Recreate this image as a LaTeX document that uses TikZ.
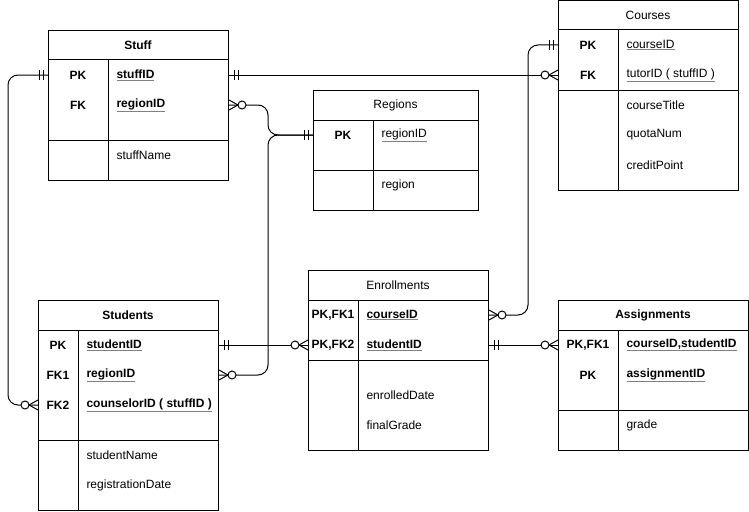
\documentclass[tikz,border=0pt]{standalone}
\usepackage{fontspec}
\usepackage{xcolor}
\setmainfont{Liberation Sans}
\newcommand\ulg[1]{{\color{gray}\underline{\color{black}#1}}}
\begin{document}
\begin{tikzpicture}[x=1pt,y=-1pt,line width=1pt,
  font=\fontsize{12}{14}\selectfont,
  tbl/.style={draw, line width=1pt, inner sep=0pt, anchor=north west},
  ttlb/.style={font=\fontsize{12}{14}\selectfont\bfseries},
  ttlr/.style={font=\fontsize{12}{14}\selectfont},
  keylbl/.style={font=\fontsize{12}{14}\selectfont\bfseries, anchor=center, inner sep=0pt},
  fldb/.style={font=\fontsize{12}{14}\selectfont\bfseries, anchor=west, inner sep=0pt},
  fldr/.style={font=\fontsize{12}{14}\selectfont, anchor=west, inner sep=0pt},
  conn/.style={line width=1pt, rounded corners=10pt}]
\newcommand\mone[2]{\begin{scope}[shift={(#1)},xscale=#2]\draw (5,-5)--(5,5) (9,-5)--(9,5);\end{scope}}
\newcommand\zmany[2]{\begin{scope}[shift={(#1)},xscale=#2]\draw (0,-5)--(9,0)--(0,5); \draw[fill=white] (13,0) circle[radius=4];\end{scope}}
\useasboundingbox (0,0) rectangle (749,511);
\fill[white] (0,0) rectangle (749,511);

% ---------- Stuff ----------
\node[tbl, minimum width=180pt, minimum height=150pt] (stuff) at (48,30) {};
\draw (48,60) -- (228,60) (48,140) -- (228,140) (108,60) -- (108,180);
\node[ttlb] (stuffT) at (138,45) {Stuff};
\node[keylbl] (stuffK1) at (78,75) {PK};
\node[keylbl] (stuffK2) at (78,105) {FK};
\node[fldb] (stuffF1) at (116,75) {\ulg{stuffID}};
\node[fldb] (stuffF2) at (116,105) {\ulg{regionID}};
\node[fldr] (stuffF3) at (116,155) {stuffName};

% ---------- Regions ----------
\node[tbl, minimum width=165pt, minimum height=120pt] (regions) at (313,90) {};
\draw (313,120) -- (478,120) (313,170) -- (478,170) (373,120) -- (373,210);
\node[ttlr] (regT) at (395.5,105) {Regions};
\node[keylbl] (regK1) at (343,135) {PK};
\node[fldr] (regF1) at (381,135) {\ulg{regionID}};
\node[fldr] (regF2) at (381,185) {region};

% ---------- Courses ----------
\node[tbl, minimum width=180pt, minimum height=189.5pt] (courses) at (558,0.5) {};
\draw (558,30) -- (738,30) (558,90) -- (738,90) (618,30) -- (618,190);
\node[ttlr] (crsT) at (648,15) {Courses};
\node[keylbl] (crsK1) at (588,45) {PK};
\node[keylbl] (crsK2) at (588,75) {FK};
\node[fldr] (crsF1) at (626,45) {\ulg{courseID}};
\node[fldr] (crsF2) at (626,75) {\ulg{tutorID ( stuffID )}};
\node[fldr] (crsF3) at (626,105) {courseTitle};
\node[fldr] (crsF4) at (626,135) {quotaNum};
\node[fldr] (crsF5) at (626,165) {creditPoint};

% ---------- Students ----------
\node[tbl, minimum width=180pt, minimum height=210pt] (students) at (38,300) {};
\draw (38,330) -- (218,330) (38,440) -- (218,440) (78,330) -- (78,510);
\node[ttlb] (stuT) at (128,315) {Students};
\node[keylbl] (stuK1) at (58,345) {PK};
\node[keylbl] (stuK2) at (58,375) {FK1};
\node[keylbl] (stuK3) at (58,405) {FK2};
\node[fldb] (stuF1) at (86,345) {\ulg{studentID}};
\node[fldb] (stuF2) at (86,375) {\ulg{regionID}};
\node[fldb] (stuF3) at (86,405) {\ulg{counselorID ( stuffID )}};
\node[fldr] (stuF4) at (86,455) {studentName};
\node[fldr] (stuF5) at (86,485) {registrationDate};

% ---------- Enrollments ----------
\node[tbl, minimum width=180pt, minimum height=180pt] (enroll) at (308,270) {};
\draw (308,300) -- (488,300) (308,360) -- (488,360) (358,300) -- (358,450);
\node[ttlr] (enrT) at (398,285) {Enrollments};
\node[keylbl] (enrK1) at (333,315) {PK,FK1};
\node[keylbl] (enrK2) at (333,345) {PK,FK2};
\node[fldb] (enrF1) at (366,315) {\ulg{courseID}};
\node[fldb] (enrF2) at (366,345) {\ulg{studentID}};
\node[fldr] (enrF3) at (366,395) {enrolledDate};
\node[fldr] (enrF4) at (366,425) {finalGrade};

% ---------- Assignments ----------
\node[tbl, minimum width=190pt, minimum height=150pt] (assign) at (558,300) {};
\draw (558,330) -- (748,330) (558,410) -- (748,410) (618,330) -- (618,450);
\node[ttlb] (asgT) at (653,315) {Assignments};
\node[keylbl] (asgK1) at (588,345) {PK,FK1};
\node[keylbl] (asgK2) at (588,375) {PK};
\node[fldb] (asgF1) at (626,345) {\ulg{courseID,studentID}};
\node[fldb] (asgF2) at (626,375) {\ulg{assignmentID}};
\node[fldr] (asgF3) at (626,425) {grade};

% ---------- end points ----------
\coordinate (pStuffPKw) at (stuff.west |- stuffK1);
\coordinate (pStuffPKe) at (stuff.east |- stuffK1);
\coordinate (pStuffFKe) at (stuff.east |- stuffK2);
\coordinate (pRegPKw) at (regions.west |- regK1);
\coordinate (pCrsPKw) at (courses.west |- crsK1);
\coordinate (pCrsFKw) at (courses.west |- crsK2);
\coordinate (pStuPKe) at (students.east |- stuK1);
\coordinate (pStuFK1e) at (students.east |- stuK2);
\coordinate (pStuFK2w) at (students.west |- stuK3);
\coordinate (pEnrK1e) at (enroll.east |- enrK1);
\coordinate (pEnrK2w) at (enroll.west |- enrK2);
\coordinate (pEnrK2e) at (enroll.east |- enrK2);
\coordinate (pAsgK1w) at (assign.west |- asgK1);

% ---------- connectors ----------
\draw[conn] (pStuffPKw) -- (8,75) -- (8,405) -- (pStuFK2w);
\draw[conn] (pStuffPKe) -- (pCrsFKw);
\draw[conn] (pStuffFKe) -- (268,105) -- (268,135) -- (pRegPKw);
\draw[conn] (pStuFK1e) -- (268,375) -- (268,135) -- (pRegPKw);
\draw[conn] (pStuPKe) -- (pEnrK2w);
\draw[conn] (pEnrK1e) -- (528,315) -- (528,45) -- (pCrsPKw);
\draw[conn] (pEnrK2e) -- (pAsgK1w);

% ---------- markers ----------
\mone{pStuffPKw}{-1}
\zmany{pStuFK2w}{-1}
\mone{pStuffPKe}{1}
\zmany{pCrsFKw}{-1}
\zmany{pStuffFKe}{1}
\mone{pRegPKw}{-1}
\zmany{pStuFK1e}{1}
\mone{pStuPKe}{1}
\zmany{pEnrK2w}{-1}
\zmany{pEnrK1e}{1}
\mone{pCrsPKw}{-1}
\mone{pEnrK2e}{1}
\zmany{pAsgK1w}{-1}
\end{tikzpicture}
\end{document}
